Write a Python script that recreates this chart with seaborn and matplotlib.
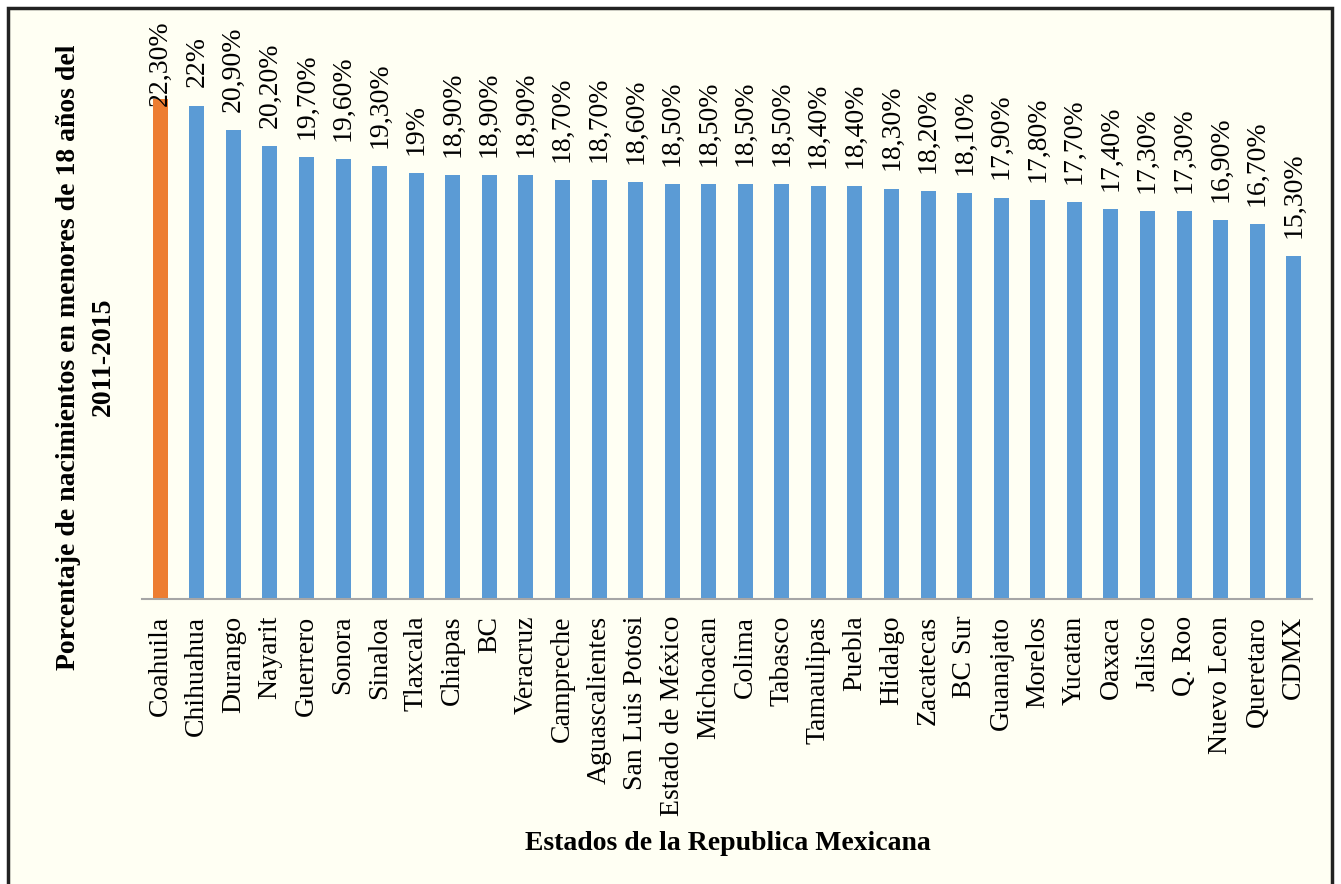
import matplotlib
matplotlib.use("Agg")
import matplotlib.pyplot as plt
import matplotlib.patches as mpatches
import seaborn as sns
import pandas as pd

# Datos: porcentaje de nacimientos en menores de 18 años (2011-2015)
estados = ["Coahuila", "Chihuahua", "Durango", "Nayarit", "Guerrero", "Sonora",
           "Sinaloa", "Tlaxcala", "Chiapas", "BC", "Veracruz", "Campreche",
           "Aguascalientes", "San Luis Potosi", "Estado de México", "Michoacan",
           "Colima", "Tabasco", "Tamaulipas", "Puebla", "Hidalgo", "Zacatecas",
           "BC Sur", "Guanajato", "Morelos", "Yucatan", "Oaxaca", "Jalisco",
           "Q. Roo", "Nuevo Leon", "Queretaro", "CDMX"]
porcentajes = [22.3, 22.0, 20.9, 20.2, 19.7, 19.6, 19.3, 19.0, 18.9, 18.9, 18.9,
               18.7, 18.7, 18.6, 18.5, 18.5, 18.5, 18.5, 18.4, 18.4, 18.3, 18.2,
               18.1, 17.9, 17.8, 17.7, 17.4, 17.3, 17.3, 16.9, 16.7, 15.3]
etiquetas = ["22,30%", "22%", "20,90%", "20,20%", "19,70%", "19,60%", "19,30%",
             "19%", "18,90%", "18,90%", "18,90%", "18,70%", "18,70%", "18,60%",
             "18,50%", "18,50%", "18,50%", "18,50%", "18,40%", "18,40%", "18,30%",
             "18,20%", "18,10%", "17,90%", "17,80%", "17,70%", "17,40%", "17,30%",
             "17,30%", "16,90%", "16,70%", "15,30%"]

azul = "#5B9BD5"
naranja = "#ED7D31"
crema = "#FFFFF3"
colores = [naranja] + [azul] * (len(estados) - 1)

df = pd.DataFrame({"estado": estados, "pct": porcentajes})

W, H = 1341, 884
fig = plt.figure(figsize=(W / 100, H / 100), dpi=100)
fig.patch.set_facecolor("white")

# marco del grafico
marco = mpatches.Rectangle((8 / W, -0.02), (W - 9) / W - 8 / W, 1.02 - 8 / H,
                           transform=fig.transFigure, facecolor=crema,
                           edgecolor="#222222", linewidth=2.5, zorder=-5)
fig.patches.append(marco)

ax = fig.add_axes([142 / W, (H - 599) / H, (1312 - 142) / W, (599 - 20) / H])
sns.barplot(data=df, x="estado", y="pct", hue="estado", palette=colores,
            legend=False, width=0.41, saturation=1, ax=ax)

ax.set_facecolor("none")
ax.set_ylim(0, 579 / 22.43)
ax.set_xlim(-0.5, len(estados) - 0.5)
for lado in ["top", "right", "left"]:
    ax.spines[lado].set_visible(False)
ax.spines["bottom"].set_color("#A6A6A6")
ax.spines["bottom"].set_linewidth(1.5)
ax.set_yticks([])
ax.set_xlabel("")
ax.set_ylabel("")
ax.tick_params(axis="x", length=0, pad=12)
ax.set_xticks(range(len(estados)))
ax.set_xticklabels(estados, rotation=90, fontsize=20, family="Liberation Serif",
                   va="top", ha="center")

textos = []
for i, (v, et) in enumerate(zip(porcentajes, etiquetas)):
    t = ax.annotate(et, (i, v), xytext=(0, 13), textcoords="offset points",
                    rotation=90, ha="center", va="bottom", fontsize=20,
                    family="Liberation Serif", annotation_clip=False)
    textos.append(t)

# las etiquetas que se salen del area del grafico se bajan
fig.canvas.draw()
limite = H - 20
r = fig.canvas.get_renderer()
for t in textos:
    bb = t.get_window_extent(r)
    if bb.y1 > limite:
        t.set_position((0, 13 - (bb.y1 - limite) * 72 / 100))

fig.text(86 / W, 1 - 357 / H,
         "Porcentaje de nacimientos en menores de 18 años del\n2011-2015",
         rotation=90, ha="center", va="center", multialignment="center",
         fontsize=20, fontweight="bold", family="Liberation Serif",
         linespacing=1.55)
fig.text(728 / W, 1 - 843 / H, "Estados de la Republica Mexicana",
         ha="center", va="center", fontsize=20, fontweight="bold",
         family="Liberation Serif")

fig.savefig("out.png", dpi=100)
